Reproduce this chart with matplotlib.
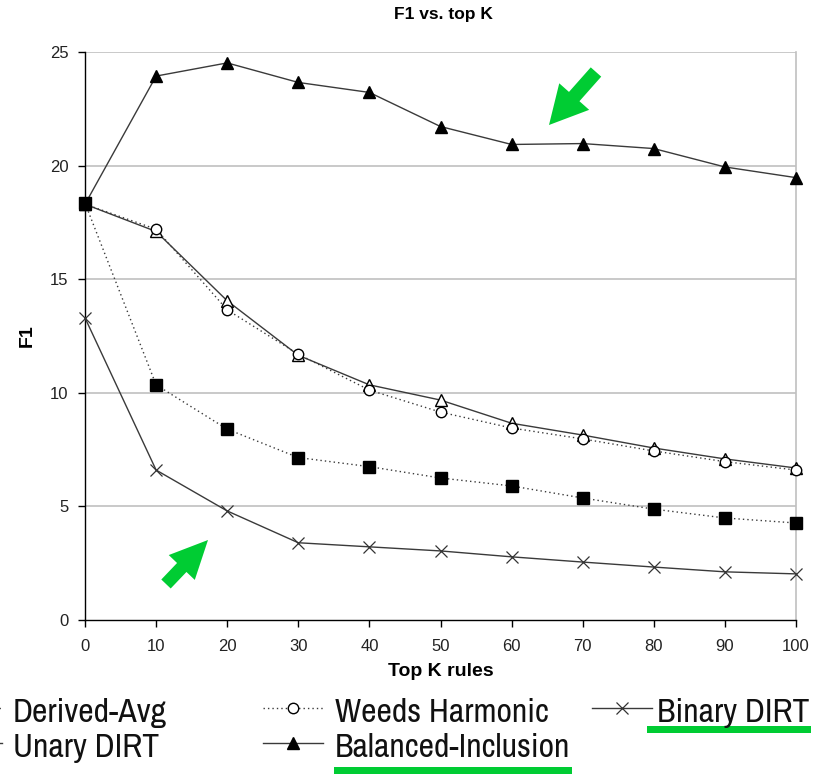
import matplotlib
matplotlib.use("Agg")
import matplotlib.pyplot as plt
from matplotlib import font_manager
from matplotlib.lines import Line2D
from matplotlib.patches import FancyArrow, Rectangle

# ---- data -------------------------------------------------------------
top_k = [0, 10, 20, 30, 40, 50, 60, 70, 80, 90, 100]

derived_avg = [18.35, 10.35, 8.4, 7.15, 6.75, 6.25, 5.9, 5.37, 4.88, 4.49, 4.27]
weeds_harmonic = [18.3, 17.2, 13.65, 11.7, 10.12, 9.15, 8.45, 7.97, 7.44, 6.97, 6.6]
binary_dirt = [13.3, 6.6, 4.8, 3.4, 3.22, 3.04, 2.78, 2.55, 2.33, 2.12, 2.03]
unary_dirt = [18.3, 17.1, 14.05, 11.65, 10.35, 9.68, 8.66, 8.14, 7.57, 7.09, 6.69]
balanced_inclusion = [18.3, 23.94, 24.52, 23.66, 23.22, 21.72, 20.93, 20.97, 20.75, 19.94, 19.47]

series_names = ["Derived-Avg", "Weeds Harmonic", "Binary DIRT",
                "Unary DIRT", "Balanced-Inclusion"]

x_ticks = [0, 10, 20, 30, 40, 50, 60, 70, 80, 90, 100]
y_ticks = [0, 5, 10, 15, 20, 25]

# ---- styles -----------------------------------------------------------
LINE = "#3a3a3a"
GREEN = "#00cc33"
GRID = "#c0c0c0"
regular = ["Liberation Sans", "DejaVu Sans"]

# prefer a narrow face for the legend if one is available
narrow_name = None
for f in font_manager.fontManager.ttflist:
    nm = f.name.lower()
    if ("narrow" in nm or "condensed" in nm) and f.weight in (400, "normal", "regular") \
            and f.style == "normal":
        narrow_name = f.name
        break
if narrow_name:
    legend_font = dict(family=[narrow_name, "Liberation Sans"], fontsize=24.3)
else:
    legend_font = dict(family=regular, fontsize=20)

styles = {
    "Derived-Avg": dict(ls=(0, (1, 2.2)), marker="s", mfc="black", mec="black", ms=8.5),
    "Weeds Harmonic": dict(ls=(0, (1, 2.2)), marker="o", mfc="white", mec="black", ms=7.5),
    "Binary DIRT": dict(ls="-", marker="x", mfc="none", mec="#333333", ms=8, mew=0.9),
    "Unary DIRT": dict(ls="-", marker="^", mfc="white", mec="black", ms=8.5),
    "Balanced-Inclusion": dict(ls="-", marker="^", mfc="black", mec="black", ms=9),
}

W, H = 815, 774
fig = plt.figure(figsize=(W / 100, H / 100), dpi=100)
fig.patch.set_facecolor("white")

ax_l, ax_r, ax_t, ax_b = 85, 796, 52, 620
ax = fig.add_axes([ax_l / W, 1 - ax_b / H, (ax_r - ax_l) / W, (ax_b - ax_t) / H])

order = [("Binary DIRT", binary_dirt, 3), ("Unary DIRT", unary_dirt, 4),
         ("Weeds Harmonic", weeds_harmonic, 5),
         ("Balanced-Inclusion", balanced_inclusion, 6),
         ("Derived-Avg", derived_avg, 7)]
for name, vals, z in order:
    st = styles[name]
    ax.plot(top_k, vals, color=LINE, lw=1.0, zorder=z, clip_on=False, **st)

ax.set_xlim(0, 100)
ax.set_ylim(0, 25)
ax.set_xticks(x_ticks)
ax.set_yticks(y_ticks)
for y in y_ticks[1:]:
    ax.axhline(y, color=GRID, lw=1.2, zorder=1)
ax.spines["top"].set_visible(False)
ax.spines["right"].set_color(GRID)
ax.spines["right"].set_linewidth(1.2)
ax.spines["left"].set_color("black")
ax.spines["bottom"].set_color("black")
ax.spines["left"].set_linewidth(1.0)
ax.spines["bottom"].set_linewidth(1.0)
ax.tick_params(axis="both", direction="out", length=5, width=1.0, color="black",
               labelsize=12, labelcolor="#222222")
ax.tick_params(axis="x", pad=9)
ax.tick_params(axis="y", pad=7)
for lab in ax.get_xticklabels() + ax.get_yticklabels():
    lab.set_fontfamily(regular)

ax.set_xlabel("Top K rules", fontsize=14, fontweight="bold", family=regular, labelpad=6)
ax.set_ylabel("F1", fontsize=14, fontweight="bold", family=regular, labelpad=10)
fig.text(443 / W, 1 - 15 / H, "F1 vs. top K", ha="center", va="center",
         fontsize=12.5, fontweight="bold", family=regular)

# ---- overlay in pixel coordinates: legend and green arrows ------------
ov = fig.add_axes([0, 0, 1, 1])
ov.set_xlim(0, W)
ov.set_ylim(H, 0)
ov.axis("off")
ov.patch.set_alpha(0)

# legend entries: (name, sample start x, text x, sample y, baseline y)
legend_rows = [
    ("Derived-Avg", -58, 13, 708, 722),
    ("Weeds Harmonic", 263, 335, 708, 722),
    ("Binary DIRT", 592, 657, 708, 722),
    ("Unary DIRT", -58, 13, 743, 757),
    ("Balanced-Inclusion", 263, 335, 743, 757),
]
for name, sx, tx, sy, by in legend_rows:
    st = dict(styles[name])
    sample_len = 60
    xs = [sx, sx + sample_len / 2, sx + sample_len]
    line = Line2D(xs, [sy, sy, sy], color=LINE, lw=1.0, ls=st.pop("ls"),
                  markevery=[1], **st)
    ov.add_line(line)
    ov.text(tx, by, name, va="baseline", ha="left", color="#111111", **legend_font)

# green underlines
ov.add_patch(Rectangle((647, 726), 164, 7, color=GREEN, lw=0))
ov.add_patch(Rectangle((334, 767), 238, 7, color=GREEN, lw=0))

# green arrows
ov.add_patch(FancyArrow(596, 72, -47, 53, width=14, head_width=40, head_length=38,
                        length_includes_head=True, color=GREEN, lw=0))
ov.add_patch(FancyArrow(166, 584, 42, -44, width=13, head_width=36, head_length=38,
                        length_includes_head=True, color=GREEN, lw=0))

fig.savefig("out.png", dpi=100)
